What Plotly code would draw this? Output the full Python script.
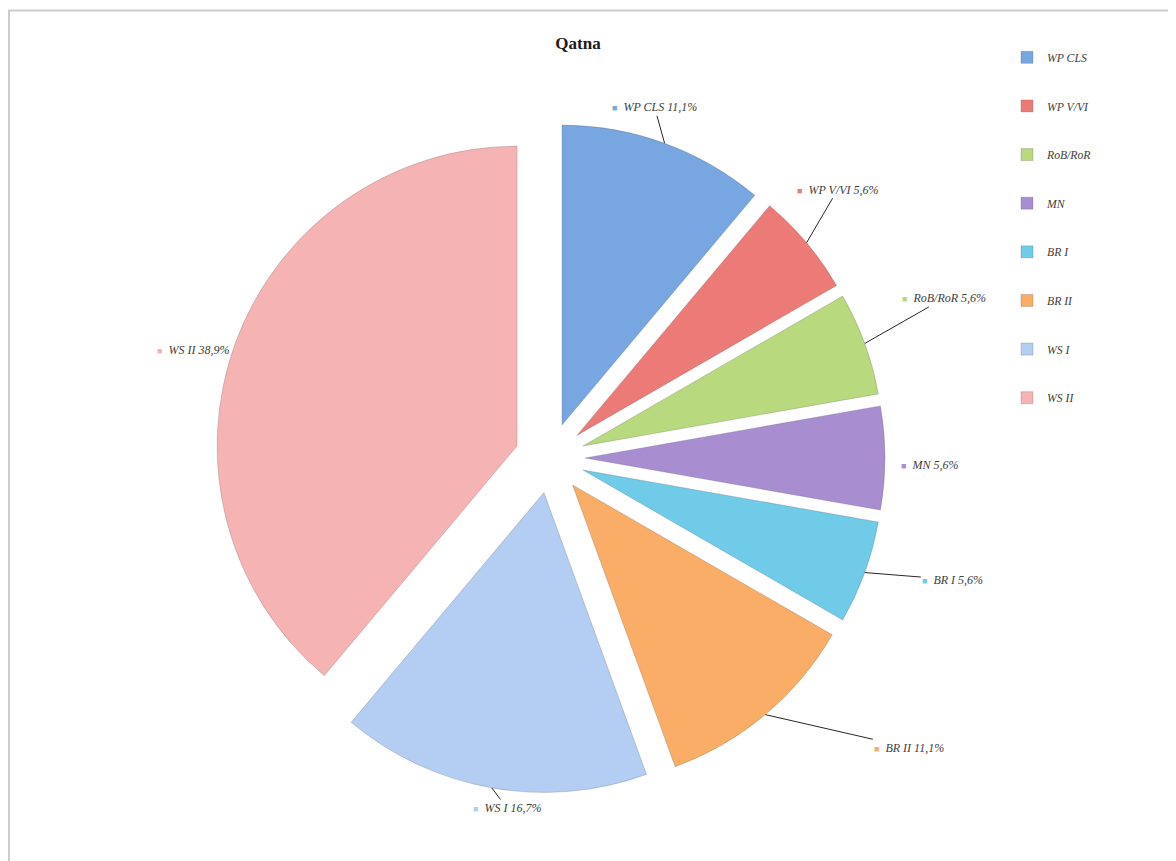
import math
import plotly.graph_objects as go

# ---- data ----
categories = ["WP CLS", "WP V/VI", "RoB/RoR", "MN", "BR I", "BR II", "WS I", "WS II"]
counts = [2, 1, 1, 1, 1, 2, 3, 7]
title_text = "Qatna"

# ---- styles / layout ----
colors = ["#78A6E0", "#EC7B77", "#B8D97E", "#A88ED0", "#6FCBE7", "#F9AD67", "#B4CDF2", "#F5B4B3"]
W, H = 1176, 861
PAGE_OFF = 8  # browser body margin

def px(x):
    return (x - PAGE_OFF) / W

def py(y):
    return 1 - (y - PAGE_OFF) / H

PULL = 0.117
# pie domain in screen pixels
DX0, DX1, DY0, DY1 = 215, 885, 123, 793

# label offsets (pixels, text centre relative to slice arc midpoint); None = no leader line
label_offsets = [(-10, -36), (31, -53), (79, -45), None, (88, 7), (144, 33), (15, 20), None]
noleader_shift = {3: ("left", 14, -7), 7: ("right", -4, -7)}

legend_labels = ["<br>" + c + "<br> " for c in categories]

fig = go.Figure(
    go.Pie(
        labels=legend_labels,
        values=counts,
        textinfo="none",
        sort=False,
        direction="clockwise",
        rotation=0,
        pull=PULL,
        marker=dict(colors=colors, line=dict(color="rgba(90,90,90,0.25)", width=1)),
        automargin=False,
        domain=dict(x=[px(DX0), px(DX1)], y=[py(DY1), py(DY0)]),
        hoverinfo="label+percent",
        showlegend=True,
    )
)

# data labels positioned from the pie geometry (slice mid-angles come from the counts)
total = sum(counts)
cx, cy = (DX0 + DX1) / 2, (DY0 + DY1) / 2
R_out = min(DX1 - DX0, DY1 - DY0) / 2  # radius + pull distance
label_font = dict(family="Liberation Serif", size=12, color="#404040", style="italic")
annotations = []
cum = 0
for i, (cat, v, col) in enumerate(zip(categories, counts, colors)):
    mid = (cum + v / 2) / total * 360
    cum += v
    ax_x = cx + R_out * math.sin(math.radians(mid))
    ax_y = cy - R_out * math.cos(math.radians(mid))
    pct = f"{v / total * 100:.1f}".replace(".", ",")
    txt = f'<span style="color:{col};font-size:9px">■</span>  {cat} {pct}%'
    off = label_offsets[i]
    if off is None:
        anchor, xs, ys = noleader_shift[i]
        annotations.append(dict(
            x=px(ax_x), y=py(ax_y), xref="paper", yref="paper", text=txt,
            showarrow=False, xanchor=anchor, yanchor="middle", xshift=xs, yshift=ys,
            font=label_font,
        ))
    else:
        annotations.append(dict(
            x=px(ax_x), y=py(ax_y), xref="paper", yref="paper", text=txt,
            showarrow=True, arrowhead=0, arrowwidth=1, arrowcolor="#262626",
            ax=off[0], ay=off[1], axref="pixel", ayref="pixel", standoff=0,
            font=label_font,
        ))

fig.update_layout(
    width=W,
    height=H,
    margin=dict(l=0, r=0, t=0, b=0),
    paper_bgcolor="white",
    plot_bgcolor="white",
    separators=",.",
    title=dict(
        text="<b>" + title_text + "</b>",
        x=px(578), xanchor="center",
        y=py(43), yanchor="middle",
        font=dict(family="Liberation Serif", size=17, color="#1a1a1a"),
    ),
    legend=dict(
        x=px(1007), xanchor="left",
        y=py(28), yanchor="top",
        font=dict(family="Liberation Serif", size=11.7, color="#404040", style="italic"),
        bgcolor="rgba(0,0,0,0)",
        itemclick=False,
    ),
    annotations=annotations,
    shapes=[
        dict(
            type="rect", xref="paper", yref="paper",
            x0=px(9), x1=1.02, y0=-0.02, y1=py(10.5),
            line=dict(color="#CDCDCD", width=2),
            layer="below",
        )
    ],
)

fig.write_html("out.html")
